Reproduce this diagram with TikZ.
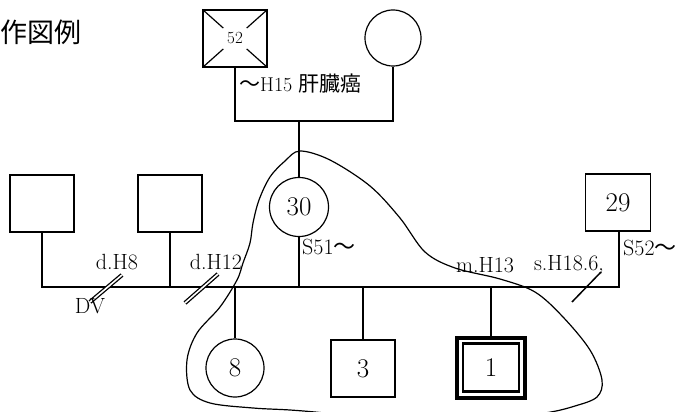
\documentclass[tikz,border=0pt]{standalone}
\usepackage{fontspec}
\usetikzlibrary{calc}
\newfontfamily\cjk{Noto Sans CJK JP}
\begin{document}
\begin{tikzpicture}[x=1pt,y=-1pt,
  shp/.style={draw,line width=1.2pt,inner sep=0pt,font=\fontsize{27}{27}\selectfont},
  sq/.style={shp,rectangle,minimum width=64pt,minimum height=57pt},
  ci/.style={shp,circle,minimum size=58pt},
  conn/.style={line width=2.8pt},
  lbl/.style={inner sep=0pt,font=\fontsize{22}{22}\selectfont},
  dbl/.style={line width=1.3pt,double=white,double distance=1.6pt},
  area/.style={line width=1.2pt}]
\useasboundingbox (0,0) rectangle (678,412);
% title
\node[anchor=west,inner sep=0pt,font=\cjk\fontsize{27}{27}\selectfont] (title) at (0,32) {作図例};
% grandparents
\node[sq,font=\fontsize{17}{17}\selectfont] (gf) at (235,38.5) {52};
\draw[line width=1.2pt] (gf.north west) -- ($(gf.north west)!0.32!(gf.south east)$)
  (gf.south east) -- ($(gf.south east)!0.32!(gf.north west)$)
  (gf.north east) -- ($(gf.north east)!0.32!(gf.south west)$)
  (gf.south west) -- ($(gf.south west)!0.32!(gf.north east)$);
\node[ci,minimum size=56pt] (gm) at (393,38) {};
\coordinate (py) at (300,121);
\draw[conn] (gf.south) |- (py) -| (gm.south);
% generation II
\node[ci,minimum size=59pt] (mo) at (299,207) {30};
\draw[conn] (mo.north) -- (mo.north |- py);
\node[sq] (h1) at (42,203.5) {};
\node[sq] (h2) at (170,203.5) {};
\node[sq,minimum width=65pt] (h4) at (618,202.5) {29};
\coordinate (famL) at (42,287);
\coordinate (famR) at (619,287);
\draw[conn,line cap=rect] (h1.south) -- (famL) -- (famR) -- (famR |- h4.south);
\draw[conn] (h2.south) -- (h2.south |- famL);
\draw[conn] (mo.south) -- (mo.south |- famL);
% children
\node[ci] (d8) at (235,368) {8};
\node[sq] (s3) at (363,368.5) {3};
\node[draw,line width=4pt,minimum width=68pt,minimum height=60pt,inner sep=0pt] (p1) at (491,368) {};
\node[draw,line width=2.5pt,minimum width=56pt,minimum height=48pt,inner sep=0pt,font=\fontsize{27}{27}\selectfont] (p1in) at (491,367.5) {1};
\draw[conn] (d8.north) -- (d8.north |- famL);
\draw[conn] (s3.north) -- (s3.north |- famL);
\draw[conn] (p1.north) -- (p1.north |- famL);
% divorce / separation marks
\coordinate (dv1a) at (90,302); \coordinate (dv1b) at (122,275);
\coordinate (dv2a) at (185,303); \coordinate (dv2b) at (218,274);
\coordinate (spa) at (572,302); \coordinate (spb) at (601,272);
\draw[dbl] (dv1a) -- (dv1b);
\draw[dbl] (dv2a) -- (dv2b);
\draw[line width=1.5pt] (spa) -- (spb);
% labels
\node[anchor=west,inner sep=0pt,font=\fontsize{20}{20}\selectfont] (lgf) at (239,84) {{\cjk\fontsize{21}{21}\selectfont ～}H15 {\cjk\fontsize{21}{21}\selectfont 肝臓癌}};
\node[lbl,anchor=west] (lmo) at (302,247) {S51{\cjk ～}};
\node[lbl,anchor=west] (lh4) at (623,248) {S52{\cjk ～}};
\node[lbl] (ld1) at (117,262) {d.H8};
\node[lbl] (ld2) at (216,262) {d.H12};
\node[lbl] (lm) at (485,265) {m.H13};
\node[lbl] (ls) at (569,265) {s.H18.6,};
\node[lbl] (ldv) at (90,306) {DV};
% household boundary
\draw[area] plot[smooth cycle,tension=0.55] coordinates {
 (300,151) (330,160) (370,186) (400,218) (425,252) (455,268) (500,279)
 (535,292) (563,317) (590,350) (602,380) (597,397)
 (575,406) (545,413) (480,421) (400,421) (325,413) (290,410) (253,408)
 (210,403) (190,390) (187,360) (197,333) (220,307) (237,280) (243,263)
 (250,243) (253,223) (259,200) (270,177) (285,161)};
\end{tikzpicture}
\end{document}
